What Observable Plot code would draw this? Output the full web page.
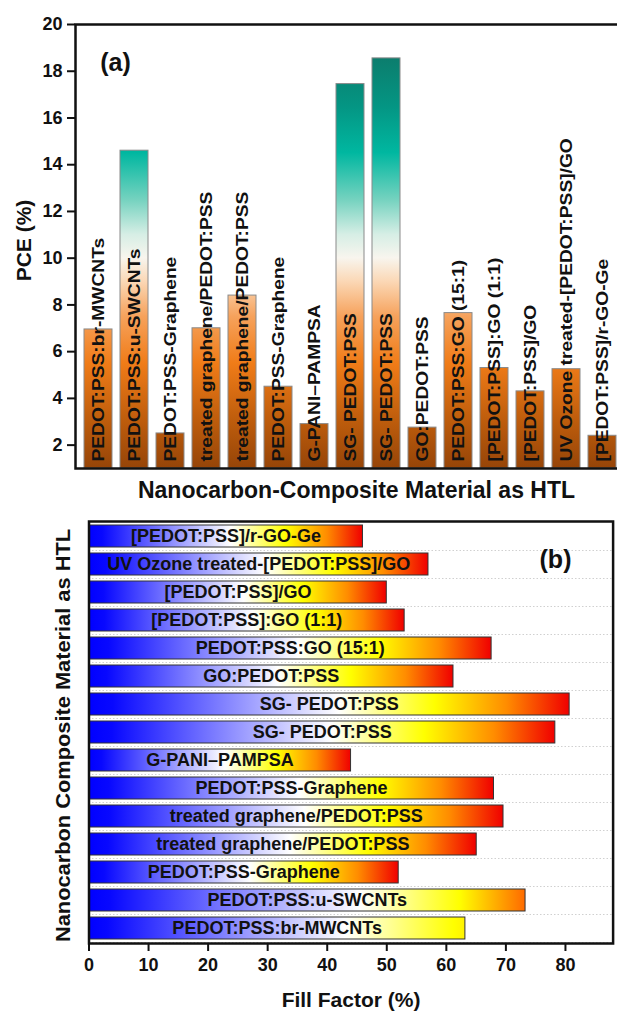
<!DOCTYPE html>
<html><head><meta charset="utf-8">
<script src="https://cdn.jsdelivr.net/npm/d3@7"></script>
<script src="https://cdn.jsdelivr.net/npm/@observablehq/plot@0.6"></script>
<style>
html,body{margin:0;padding:0;background:#fff;overflow:hidden;width:617px;height:1011px}
#chart svg{display:block;max-width:none !important;height:auto}
</style></head><body><div id="chart"></div>
<script>
// ---- data ----
const categories = ["PEDOT:PSS:br-MWCNTs","PEDOT:PSS:u-SWCNTs","PEDOT:PSS-Graphene","treated graphene/PEDOT:PSS","treated graphene/PEDOT:PSS","PEDOT:PSS-Graphene","G-PANI\u2013PAMPSA","SG- PEDOT:PSS","SG- PEDOT:PSS","GO:PEDOT:PSS","PEDOT:PSS:GO (15:1)","[PEDOT:PSS]:GO (1:1)","[PEDOT:PSS]/GO","UV Ozone treated-[PEDOT:PSS]/GO","[PEDOT:PSS]/r-GO-Ge"];
const pce = [6.95,14.6,2.5,7.0,8.4,4.5,2.9,17.45,18.55,2.75,7.65,5.3,4.3,5.25,2.4];
const fillFactor = [63.2,73.3,52.0,65.1,69.6,68.0,44.0,78.3,80.7,61.2,67.6,53.0,50.0,57.0,46.0];
const pceTicks = [2,4,6,8,10,12,14,16,18,20];
const ffTicks = [0,10,20,30,40,50,60,70,80];
const titleA = {panel: "(a)", x: "Nanocarbon-Composite Material as HTL", y: "PCE (%)"};
const titleB = {panel: "(b)", x: "Fill Factor (%)", y: "Nanocarbon Composite Material as HTL"};

// ---- styles ----
const FONT = "'Liberation Sans', Arial, Helvetica, sans-serif";
const pceGradStops = [[1,"#964508"],[3,"#bd5c0c"],[5.5,"#f07c18"],[7.5,"#f6a25c"],[9,"#fbd8b6"],[10,"#f8f5ee"],[11,"#d6eee5"],[12.5,"#74d2bf"],[14.5,"#00b7a0"],[16.5,"#049583"],[19.5,"#0f7263"]];
const ffGradients = {
  ffRed: [[0,"#0000ff"],[0.05,"#0808ff"],[0.52,"#ffffff"],[0.72,"#ffff00"],[0.87,"#ff8c00"],[1,"#f00000"]],
  ffOrange: [[0,"#0000ff"],[0.05,"#0808ff"],[0.62,"#ffffff"],[0.85,"#ffff00"],[1,"#ff6a00"]],
  ffYellow: [[0,"#0000ff"],[0.05,"#0808ff"],[0.68,"#ffffff"],[0.97,"#ffff00"],[1,"#fff200"]]
};
const ffGradientOf = i => i === 0 ? "ffYellow" : i === 1 ? "ffOrange" : "ffRed";
const svgStyle = {fontFamily: FONT, fontWeight: "bold", fontSize: "18px", color: "#111", background: "white", maxWidth: "none", overflow: "visible"};
const bold = {fontWeight: "bold", fill: "#111"};

const rows = categories.map((name, i) => ({i, name, pce: pce[i], ff: fillFactor[i], grad: ffGradientOf(i)}));
const idx = rows.map(d => d.i);

// ---- panel (a) ----
const topPlot = Plot.plot({
  width: 630, height: 505,
  marginTop: 24, marginBottom: 37, marginLeft: 75, marginRight: 4,
  style: svgStyle,
  x: {type: "band", domain: idx, paddingInner: 0.21, paddingOuter: 0.11, axis: null},
  y: {domain: [1, 20], axis: null, label: null},
  marks: [
    Plot.barY(rows, {x: "i", y1: 1, y2: "pce", fill: "url(#pceGrad)", stroke: "#8a8a8a", strokeWidth: 1}),
    Plot.text(rows, {x: "i", y: 1, text: "name", rotate: -90, textAnchor: "start", lineAnchor: "middle", dy: -7, fontSize: 16, ...bold, ariaDescription: "pce-labels"}),
    Plot.axisY(pceTicks, {tickSize: 8, tickPadding: 5, strokeWidth: 2, fontSize: 18, fontWeight: "bold", label: null}),
    Plot.frame({stroke: "#111", strokeWidth: 2.5}),
    Plot.text([titleA.panel], {frameAnchor: "top-left", textAnchor: "middle", lineAnchor: "middle", dx: 40, dy: 38, fontSize: 25, ...bold}),
    Plot.text([titleA.x], {frameAnchor: "bottom", textAnchor: "middle", lineAnchor: "middle", dx: 5.5, dy: 22.6, fontSize: 23, ...bold}),
    Plot.text([titleA.y], {frameAnchor: "left", textAnchor: "middle", lineAnchor: "middle", dx: -51, dy: -6, rotate: -90, fontSize: 21, ...bold})
  ]
});

// ---- panel (b) ----
const ffBars = Object.keys(ffGradients).map(g =>
  Plot.barX(rows.filter(d => d.grad === g), {y: "i", x1: 0, x2: "ff", fill: `url(#${g})`, stroke: "#333", strokeWidth: 1})
);
const bottomPlot = Plot.plot({
  width: 617, height: 506,
  marginTop: 16, marginBottom: 68, marginLeft: 88.5, marginRight: 4.4,
  style: svgStyle,
  x: {domain: [0, 88], axis: null, label: null},
  y: {type: "band", domain: idx.slice().reverse(), paddingInner: 0.22, paddingOuter: 0.1, axis: null},
  marks: [
    Plot.ruleY(idx, {y: d => d, dy: 14, stroke: "#c4c4c4", strokeDasharray: "1.5,2", strokeWidth: 0.8}),
    ...ffBars,
    Plot.text(rows, {y: "i", x: d => d.ff / 2, text: "name", fontSize: 18, ...bold}),
    Plot.axisX(ffTicks, {tickSize: 8, tickPadding: 7, strokeWidth: 2, fontSize: 18, fontWeight: "bold", label: null}),
    Plot.frame({stroke: "#111", strokeWidth: 2.5}),
    Plot.text([titleB.panel], {frameAnchor: "top-right", textAnchor: "middle", lineAnchor: "middle", dx: -57.6, dy: 38, fontSize: 25, ...bold}),
    Plot.text([titleB.x], {frameAnchor: "bottom", textAnchor: "middle", lineAnchor: "middle", dx: 0, dy: 56.5, fontSize: 21, ...bold}),
    Plot.text([titleB.y], {frameAnchor: "left", textAnchor: "middle", lineAnchor: "middle", dx: -25, dy: 3, rotate: -90, fontSize: 20, ...bold, ariaDescription: "ytitle-b"})
  ]
});

// ---- gradients ----
function addStops(grad, stops) {
  stops.forEach(([o, c]) => grad.append("stop").attr("offset", o).attr("stop-color", c));
}
{
  const ys = topPlot.scale("y");
  const yA = ys.apply(1), yB = ys.apply(20);
  const defs = d3.select(topPlot).insert("defs", ":first-child");
  const g = defs.append("linearGradient").attr("id", "pceGrad").attr("gradientUnits", "userSpaceOnUse")
    .attr("x1", 0).attr("x2", 0).attr("y1", yA).attr("y2", yB);
  addStops(g, pceGradStops.map(([v, c]) => [(v - 1) / 19, c]));
}
{
  const defs = d3.select(bottomPlot).insert("defs", ":first-child");
  for (const [id, stops] of Object.entries(ffGradients)) {
    const g = defs.append("linearGradient").attr("id", id).attr("x1", 0).attr("x2", 1).attr("y1", 0).attr("y2", 0);
    addStops(g, stops);
  }
}

document.getElementById("chart").append(topPlot, bottomPlot);

// stretch rotated labels along their length (as in the reference)
function stretch(root, label, k) {
  d3.select(root).selectAll(`[aria-description="${label}"] text, text[aria-description="${label}"]`).each(function() {
    const len = this.getComputedTextLength();
    if (len > 0) {
      this.setAttribute("textLength", (len * k).toFixed(1));
      this.setAttribute("lengthAdjust", "spacingAndGlyphs");
    }
  });
}
stretch(topPlot, "pce-labels", 1.2);
stretch(bottomPlot, "ytitle-b", 1.09);
</script></body></html>
